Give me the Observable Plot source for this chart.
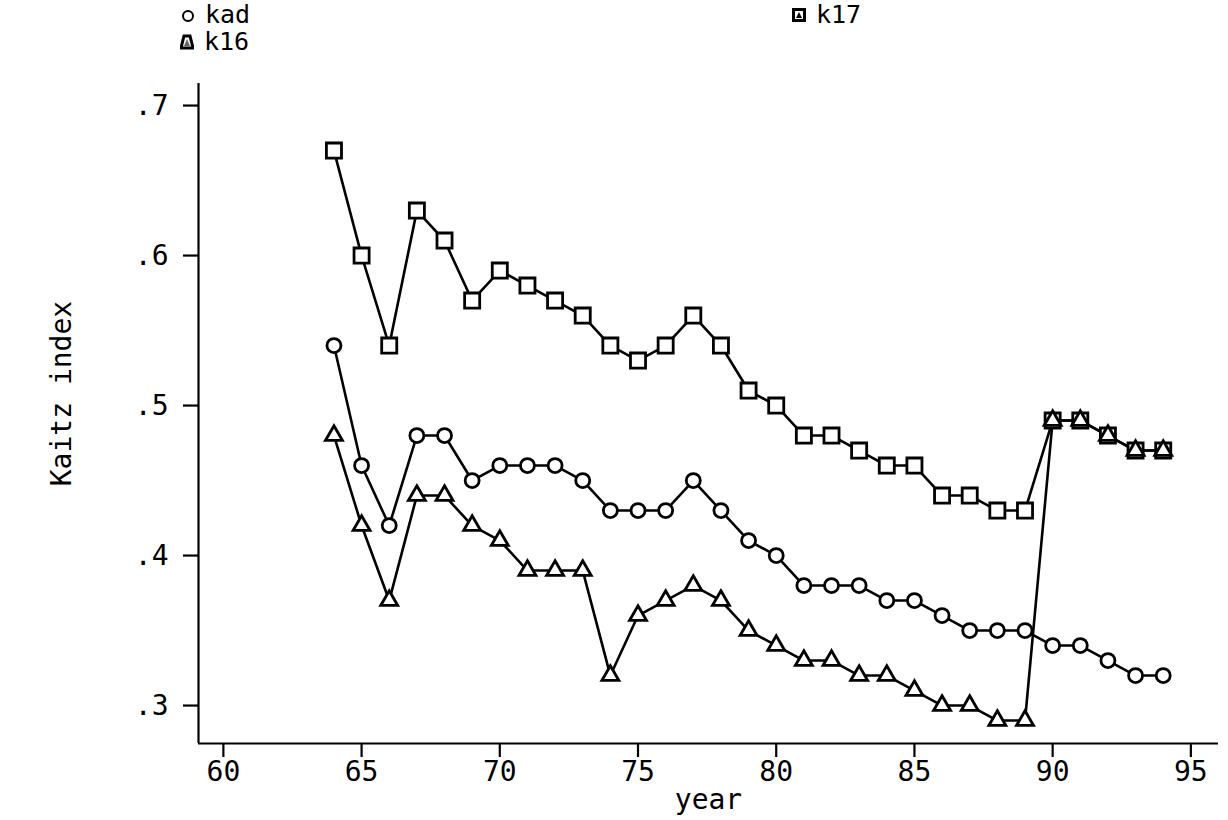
<!DOCTYPE html>
<html>
<head>
<meta charset="utf-8">
<script src="https://cdn.jsdelivr.net/npm/d3@7"></script>
<script src="https://cdn.jsdelivr.net/npm/@observablehq/plot@0.6"></script>
<style>
  html, body { margin: 0; padding: 0; background: #fff; }
  body { width: 1228px; height: 820px; overflow: hidden; font-family: "DejaVu Sans Mono", monospace; }
  #legend { position: relative; height: 60px; width: 1228px; font-size: 25px; color: #000; }
  .item { position: absolute; display: flex; align-items: center; line-height: 1; }
  .item svg { margin-right: 10px; }
</style>
</head>
<body>
<div id="legend"></div>
<div id="chart"></div>
<script>
const years = [64,65,66,67,68,69,70,71,72,73,74,75,76,77,78,79,80,81,82,83,84,85,86,87,88,89,90,91,92,93,94];
const kad = [.54,.46,.42,.48,.48,.45,.46,.46,.46,.45,.43,.43,.43,.45,.43,.41,.40,.38,.38,.38,.37,.37,.36,.35,.35,.35,.34,.34,.33,.32,.32];
const k16 = [.48,.42,.37,.44,.44,.42,.41,.39,.39,.39,.32,.36,.37,.38,.37,.35,.34,.33,.33,.32,.32,.31,.30,.30,.29,.29,.49,.49,.48,.47,.47];
const k17 = [.67,.60,.54,.63,.61,.57,.59,.58,.57,.56,.54,.53,.54,.56,.54,.51,.50,.48,.48,.47,.46,.46,.44,.44,.43,.43,.49,.49,.48,.47,.47];
const seriesNames = ["kad", "k16", "k17"];
const yTicks = [.3, .4, .5, .6, .7];
const xTicks = [60, 65, 70, 75, 80, 85, 90, 95];
const yTitle = "Kaitz index";
const xTitle = "year";

const toRows = (name, vals) => years.map((yr, i) => ({series: name, year: yr, value: vals[i]}));
const rKad = toRows("kad", kad), rK16 = toRows("k16", k16), rK17 = toRows("k17", k17);

// legend
const legend = document.getElementById("legend");
function addItem(left, top, symbolSvg, label) {
  const d = document.createElement("div");
  d.className = "item";
  d.style.left = left + "px";
  d.style.top = top + "px";
  d.innerHTML = symbolSvg + "<span>" + label + "</span>";
  legend.appendChild(d);
}
const circSym = '<svg width="14" height="14" viewBox="0 0 14 14"><circle cx="7" cy="8" r="5" fill="none" stroke="#000" stroke-width="2"/></svg>';
const k17Sym = '<svg width="14" height="14" viewBox="0 0 14 14"><rect x="1.5" y="1.5" width="11" height="11" fill="none" stroke="#000" stroke-width="3"/><path d="M7 4 L10 10 L4 10 Z" fill="#000"/></svg>';
const k16Sym = '<svg width="14" height="16" viewBox="0 0 14 16"><path d="M4 2 L10 2 L13 14 L1 14 Z" fill="none" stroke="#000" stroke-width="3"/><path d="M7 5 L10 12 L4 12 Z" fill="#000" opacity="0.6"/></svg>';
addItem(181, 2, circSym, seriesNames[0]);
addItem(180, 29, k16Sym, seriesNames[1]);
addItem(792, 2, k17Sym, seriesNames[2]);

const plot = Plot.plot({
  width: 1228,
  height: 760,
  marginTop: 23,
  marginBottom: 77,
  marginLeft: 198,
  marginRight: 10,
  style: { fontFamily: "DejaVu Sans Mono, monospace", fontSize: "28px", color: "#000", background: "#fff" },
  x: { domain: [59.1, 96.0] },
  y: { domain: [0.2747, 0.7147] },
  marks: [
    Plot.ruleX([59.1], { stroke: "#000", strokeWidth: 2.2 }),
    Plot.ruleY([0.2747], { stroke: "#000", strokeWidth: 2.2 }),
    Plot.axisY({ ticks: yTicks, tickSize: 15, tickPadding: 15, tickFormat: d => "." + Math.round(d * 10), strokeWidth: 2.2, label: null }),
    Plot.axisX({ ticks: xTicks, tickSize: 14, tickPadding: 4, strokeWidth: 2.2, label: null }),
    Plot.text([yTitle], { frameAnchor: "left", y: [0.508], text: d => d, rotate: -90, textAnchor: "middle", dx: -136, fontSize: 28 }),
    Plot.text([xTitle], { frameAnchor: "bottom", x: [77.55], text: d => d, dy: 65, fontSize: 28 }),
    Plot.line(rK17, { x: "year", y: "value", stroke: "#000", strokeWidth: 2.6 }),
    Plot.line(rKad, { x: "year", y: "value", stroke: "#000", strokeWidth: 2.6 }),
    Plot.line(rK16, { x: "year", y: "value", stroke: "#000", strokeWidth: 2.6 }),
    Plot.dot(rK17, { x: "year", y: "value", symbol: "square", r: 8.5, stroke: "#000", strokeWidth: 2.8, fill: "#fff" }),
    Plot.dot(rKad, { x: "year", y: "value", symbol: "circle", r: 7, stroke: "#000", strokeWidth: 2.8, fill: "#fff" }),
    Plot.dot(rK16, { x: "year", y: "value", symbol: "triangle", r: 6.3, stroke: "#000", strokeWidth: 2.8, fill: "#fff" })
  ]
});
document.getElementById("chart").appendChild(plot);
</script>
</body>
</html>
